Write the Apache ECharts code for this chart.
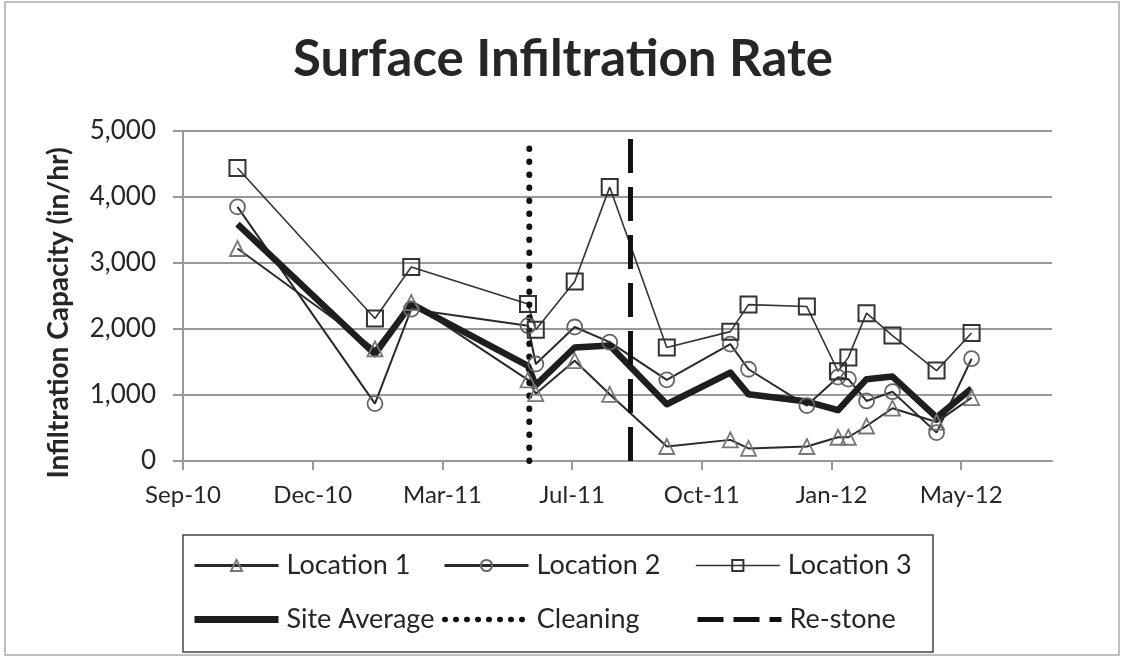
<!DOCTYPE html>
<html>
<head>
<meta charset="utf-8">
<script src="https://cdn.jsdelivr.net/npm/echarts@6/dist/echarts.min.js"></script>
<style>
  html, body { margin: 0; padding: 0; background: #fff; }
  #main { width: 1126px; height: 660px; }
</style>
</head>
<body>
<div id="main"></div>
<script>
// sampling dates
var sampleDates = ['2010-10-21', '2011-02-04', '2011-03-04', '2011-06-02', '2011-06-08', '2011-07-08',
  '2011-08-04', '2011-09-17', '2011-11-05', '2011-11-19', '2012-01-03', '2012-01-27', '2012-02-04',
  '2012-02-18', '2012-03-09', '2012-04-12', '2012-05-09'];
var location1 = [3220, 1700, 2400, 1230, 1020, 1520, 1010, 220, 320, 190, 220, 360, 360, 530, 800, 590, 960];
var location2 = [3850, 870, 2300, 2050, 1470, 2030, 1800, 1230, 1770, 1390, 840, 1270, 1240, 910, 1050, 430, 1550];
var location3 = [4440, 2160, 2940, 2380, 1990, 2720, 4150, 1720, 1960, 2370, 2340, 1360, 1570, 2240, 1900, 1370, 1940];
var siteAverage = [3590, 1620, 2380, 1440, 1150, 1720, 1750, 860, 1340, 1010, 900, 770, null, 1240, 1280, 660, 1100];
// event lines
var cleaningDate = '2011-06-03';
var cleaningTop = 4840;
var restoneDate = '2011-08-20';
var restoneTop = 4900;
// axis
var axisStart = '2010-09-09';
var axisEnd = '2012-07-10';
var tickStepDays = 100;

var DAY = 86400000;
var months = ['Jan', 'Feb', 'Mar', 'Apr', 'May', 'Jun', 'Jul', 'Aug', 'Sep', 'Oct', 'Nov', 'Dec'];
function toDay(s) {
  return (Date.parse(s) - Date.parse(axisStart)) / DAY;
}
function dayLabel(v) {
  var d = new Date(Date.parse(axisStart) + v * DAY);
  return months[d.getUTCMonth()] + '-' + String(d.getUTCFullYear()).slice(2);
}
function pairs(vals) {
  return sampleDates.map(function (s, i) { return [toDay(s), vals[i]]; });
}
var xMax = toDay(axisEnd);
var xTicks = [];
for (var t = 0; t <= xMax; t += tickStepDays) xTicks.push(t);

var font = 'Lato, "Open Sans", sans-serif';
var ink = '#262626';
var noDot = { color: 'rgba(0,0,0,0)', borderWidth: 0 };

// one legend per cell so the two rows line up in columns
function legendCell(name, left, top, lineStyle, itemStyle) {
  var l = {
    data: [name], left: left, top: top,
    itemWidth: 84, itemHeight: 14,
    textStyle: { fontSize: 27, color: ink, fontFamily: font, padding: [0, 0, 0, 3] },
    lineStyle: lineStyle
  };
  if (itemStyle) l.itemStyle = itemStyle;
  return l;
}

var chart = echarts.init(document.getElementById('main'));
chart.setOption({
  animation: false,
  backgroundColor: '#fff',
  textStyle: { fontFamily: font },
  title: {
    text: 'Surface Infiltration Rate',
    left: 'center',
    top: 29,
    textStyle: { fontSize: 51, fontWeight: 'bold', color: ink, fontFamily: font }
  },
  grid: { left: 183, right: 74, top: 131, bottom: 199, containLabel: false },
  legend: [
    legendCell('Location 1', 188, 547, { width: 3, color: '#2a2a2a' }),
    legendCell('Location 2', 438, 547, { width: 3, color: '#2a2a2a' }),
    legendCell('Location 3', 690, 547, { width: 1.6, color: '#333' }),
    legendCell('Site Average', 186, 601, { width: 7, color: '#1e1e1e' }, noDot),
    legendCell('Cleaning', 437, 601, { width: 5.5, color: '#111', type: [0.5, 10.5], cap: 'round' }, noDot),
    legendCell('Re-stone', 690, 601, { width: 5, color: '#111', type: [26, 10] }, noDot)
  ],
  graphic: [
    { type: 'rect', shape: { x: 5, y: 2, width: 1114, height: 653 }, style: { fill: 'none', stroke: '#aaa', lineWidth: 1.5 }, silent: true },
    { type: 'rect', shape: { x: 183, y: 535, width: 750, height: 117 }, style: { fill: 'none', stroke: '#444', lineWidth: 1.5 }, silent: true }
  ],
  xAxis: {
    type: 'value',
    min: 0,
    max: xMax,
    interval: tickStepDays,
    splitLine: { show: false },
    axisLine: { lineStyle: { color: '#999', width: 2 } },
    axisTick: { show: true, length: 9, lineStyle: { color: '#999', width: 2 }, customValues: xTicks },
    axisLabel: { customValues: xTicks, formatter: dayLabel, fontSize: 24, color: ink, margin: 22 }
  },
  yAxis: {
    type: 'value',
    min: 0,
    max: 5000,
    interval: 1000,
    name: 'Infiltration Capacity (in/hr)',
    nameLocation: 'middle',
    nameGap: 110,
    nameTextStyle: { fontSize: 28, fontWeight: 'bold', color: ink, fontFamily: font, padding: [0, 34, 0, 0] },
    axisLine: { show: true, lineStyle: { color: '#999', width: 2 } },
    axisTick: { show: true, length: 10, lineStyle: { color: '#999', width: 2 } },
    splitLine: { lineStyle: { color: '#999', width: 2 } },
    axisLabel: { fontSize: 26, color: ink, margin: 27 }
  },
  series: [
    {
      name: 'Location 1', type: 'line', data: pairs(location1),
      symbol: 'triangle', symbolSize: 15,
      lineStyle: { color: '#2a2a2a', width: 2 },
      itemStyle: { color: 'rgba(255,255,255,0)', borderColor: '#777', borderWidth: 1.8 }
    },
    {
      name: 'Location 2', type: 'line', data: pairs(location2),
      symbol: 'circle', symbolSize: 15,
      lineStyle: { color: '#2a2a2a', width: 2 },
      itemStyle: { color: 'rgba(255,255,255,0)', borderColor: '#666', borderWidth: 1.8 }
    },
    {
      name: 'Location 3', type: 'line', data: pairs(location3),
      symbol: 'rect', symbolSize: 16,
      lineStyle: { color: '#333', width: 1.6 },
      itemStyle: { color: 'rgba(255,255,255,0)', borderColor: '#333', borderWidth: 2 }
    },
    {
      name: 'Site Average', type: 'line', data: pairs(siteAverage), connectNulls: true,
      symbol: 'none',
      lineStyle: { color: '#1e1e1e', width: 6.5, join: 'round' },
      itemStyle: { color: '#1e1e1e' }
    },
    {
      name: 'Cleaning', type: 'line',
      data: [[toDay(cleaningDate), 0], [toDay(cleaningDate), cleaningTop]],
      symbol: 'none',
      lineStyle: { color: '#111', width: 6, type: [0.5, 12.5], cap: 'round' },
      itemStyle: { color: '#111' }
    },
    {
      name: 'Re-stone', type: 'line',
      data: [[toDay(restoneDate), 0], [toDay(restoneDate), restoneTop]],
      symbol: 'none',
      lineStyle: { color: '#111', width: 5, type: [34, 14] },
      itemStyle: { color: '#111' }
    }
  ]
});
</script>
</body>
</html>
